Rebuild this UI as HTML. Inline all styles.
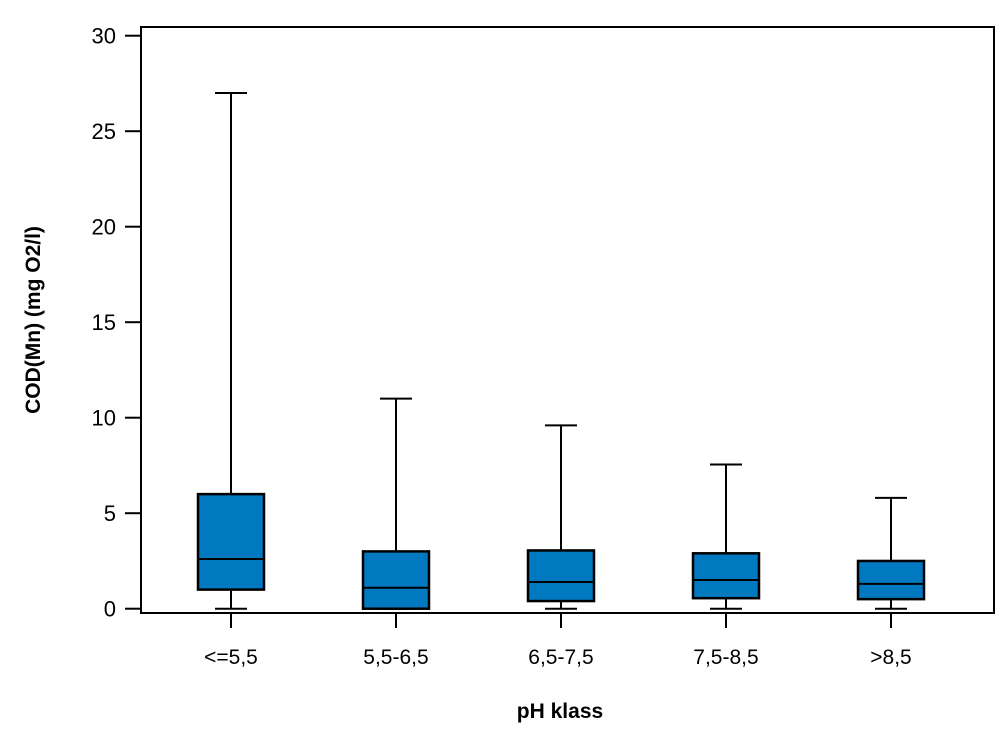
<!DOCTYPE html>
<html><head><meta charset="utf-8"><style>
body{margin:0;background:#fff;}
svg{font-family:"Liberation Sans",sans-serif;}
</style></head><body>
<svg id="chart" width="1000" height="750">
<rect x="141" y="27" width="853" height="586" fill="none" stroke="#000" stroke-width="2"/>
<g id="yaxis"></g>
<g id="xaxis"></g>
<g id="boxes"></g>
<text x="560" y="718" text-anchor="middle" font-size="21" font-weight="bold">pH klass</text>
<text transform="translate(40,320) rotate(-90)" text-anchor="middle" font-size="21" font-weight="bold">COD(Mn) (mg O2/l)</text>
</svg>
<script>
const categories=["<=5,5","5,5-6,5","6,5-7,5","7,5-8,5",">8,5"];
const mins=[0,0,0,0,0];
const q1s=[1.0,0,0.4,0.55,0.5];
const medians=[2.6,1.1,1.4,1.5,1.3];
const q3s=[6.0,3.0,3.05,2.9,2.5];
const maxs=[27,11,9.6,7.55,5.8];
const yTicks=[0,5,10,15,20,25,30];
const NS="http://www.w3.org/2000/svg";
function y(v){return 608.7-v*19.1;}
function x(i){return 231+i*165;}
function mk(tag,attrs,parent){const e=document.createElementNS(NS,tag);for(const k in attrs)e.setAttribute(k,attrs[k]);parent.appendChild(e);return e;}
const ya=document.getElementById('yaxis'),xa=document.getElementById('xaxis'),bx=document.getElementById('boxes');
yTicks.forEach(t=>{
 const l=mk('line',{x1:125,x2:141,y1:y(t),y2:y(t),stroke:'#000','stroke-width':2},ya);
 
 
 const tx=mk('text',{x:116,y:y(t)+8,'text-anchor':'end','font-size':22},ya);
 tx.textContent=t;
 
 
});
categories.forEach((c,i)=>{
 const cx=x(i);
 const l=mk('line',{x1:cx,x2:cx,y1:613,y2:628,stroke:'#000','stroke-width':2},xa);
 
 
 const tx=mk('text',{x:cx,y:664,'text-anchor':'middle','font-size':21},xa);
 tx.textContent=c;
 
 
 const g=mk('g',{},bx);
 
 
 mk('line',{x1:cx,x2:cx,y1:y(maxs[i]),y2:y(q3s[i]),stroke:'#000','stroke-width':2},g);
 mk('line',{x1:cx,x2:cx,y1:y(q1s[i]),y2:y(mins[i]),stroke:'#000','stroke-width':2},g);
 mk('line',{x1:cx-16,x2:cx+16,y1:y(maxs[i]),y2:y(maxs[i]),stroke:'#000','stroke-width':2},g);
 mk('line',{x1:cx-16,x2:cx+16,y1:y(mins[i]),y2:y(mins[i]),stroke:'#000','stroke-width':2},g);
 mk('rect',{x:cx-33,y:y(q3s[i]),width:66,height:y(q1s[i])-y(q3s[i]),fill:'#0179C1',stroke:'#000','stroke-width':2.5},g);
 mk('line',{x1:cx-33,x2:cx+33,y1:y(medians[i]),y2:y(medians[i]),stroke:'#000','stroke-width':2},g);
});
</script>
</body></html>
